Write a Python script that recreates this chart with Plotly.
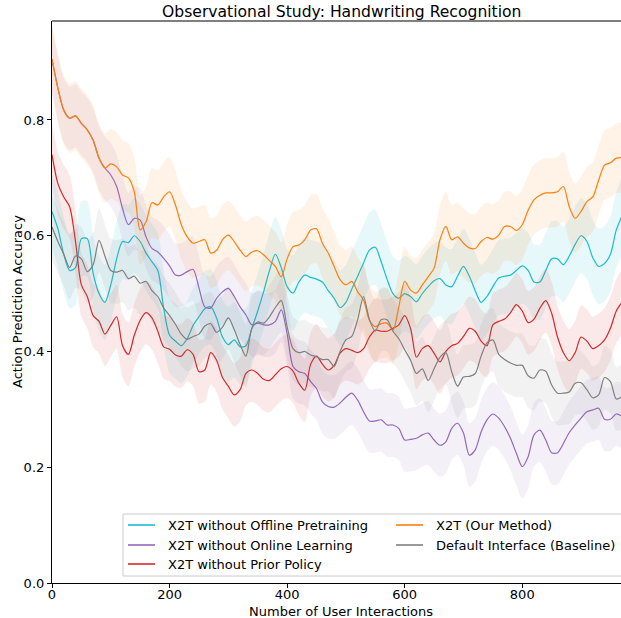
import plotly.graph_objects as go

# Number of user interactions (x) shared by every method
interactions = list(range(0, 971, 10))

# Smoothed action-prediction accuracy per method
acc_no_offline = [
    0.642, 0.612, 0.568, 0.540, 0.545, 0.595, 0.595, 0.535, 0.500, 0.485,
    0.515, 0.560, 0.590, 0.588, 0.600, 0.590, 0.570, 0.555, 0.540, 0.475,
    0.428, 0.418, 0.410, 0.422, 0.445, 0.460, 0.474, 0.477, 0.458, 0.425,
    0.412, 0.420, 0.408, 0.410, 0.440, 0.470, 0.503, 0.540, 0.568, 0.545,
    0.512, 0.501, 0.520, 0.532, 0.528, 0.525, 0.520, 0.505, 0.492, 0.476,
    0.485, 0.508, 0.530, 0.553, 0.575, 0.580, 0.555, 0.525, 0.500, 0.492,
    0.500, 0.495, 0.486, 0.500, 0.512, 0.522, 0.526, 0.515, 0.512, 0.530,
    0.547, 0.530, 0.505, 0.485, 0.495, 0.512, 0.527, 0.530, 0.532, 0.540,
    0.548, 0.540, 0.520, 0.520, 0.540, 0.560, 0.560, 0.550, 0.565, 0.585,
    0.600, 0.590, 0.562, 0.547, 0.552, 0.568, 0.610, 0.635,
]
acc_no_online = [
    0.905, 0.855, 0.817, 0.803, 0.807, 0.794, 0.783, 0.765, 0.734, 0.717,
    0.705, 0.685, 0.647, 0.619, 0.630, 0.627, 0.598, 0.578, 0.572, 0.561,
    0.548, 0.532, 0.532, 0.538, 0.542, 0.510, 0.477, 0.475, 0.492, 0.503,
    0.509, 0.495, 0.477, 0.463, 0.446, 0.449, 0.446, 0.446, 0.452, 0.472,
    0.431, 0.374, 0.365, 0.362, 0.348, 0.336, 0.313, 0.305, 0.304, 0.311,
    0.321, 0.328, 0.316, 0.296, 0.280, 0.280, 0.282, 0.273, 0.273, 0.267,
    0.247, 0.248, 0.250, 0.256, 0.259, 0.247, 0.238, 0.244, 0.267, 0.276,
    0.259, 0.221, 0.230, 0.261, 0.282, 0.292, 0.285, 0.270, 0.250, 0.224,
    0.201, 0.218, 0.256, 0.264, 0.247, 0.225, 0.225, 0.241, 0.260, 0.273,
    0.285, 0.296, 0.299, 0.302, 0.283, 0.283, 0.292, 0.288,
]
acc_no_prior = [
    0.740, 0.690, 0.667, 0.650, 0.590, 0.515, 0.495, 0.462, 0.452, 0.430,
    0.445, 0.460, 0.410, 0.395, 0.428, 0.454, 0.467, 0.458, 0.435, 0.408,
    0.404, 0.394, 0.392, 0.403, 0.395, 0.365, 0.368, 0.398, 0.385, 0.355,
    0.340, 0.325, 0.334, 0.362, 0.368, 0.362, 0.352, 0.350, 0.360, 0.370,
    0.374, 0.366, 0.345, 0.333, 0.378, 0.392, 0.378, 0.368, 0.376, 0.397,
    0.405, 0.402, 0.398, 0.405, 0.425, 0.437, 0.435, 0.435, 0.440, 0.446,
    0.462, 0.440, 0.390, 0.405, 0.410, 0.397, 0.382, 0.400, 0.410, 0.414,
    0.426, 0.440, 0.435, 0.418, 0.410, 0.446, 0.452, 0.456, 0.467, 0.481,
    0.470, 0.450, 0.456, 0.475, 0.488, 0.466, 0.425, 0.398, 0.384, 0.398,
    0.425, 0.418, 0.405, 0.410, 0.420, 0.440, 0.470, 0.485,
]
acc_x2t = [
    0.905, 0.855, 0.817, 0.803, 0.807, 0.794, 0.783, 0.765, 0.734, 0.717,
    0.724, 0.719, 0.705, 0.700, 0.676, 0.610, 0.624, 0.657, 0.653, 0.667,
    0.676, 0.653, 0.619, 0.598, 0.587, 0.590, 0.593, 0.570, 0.575, 0.593,
    0.601, 0.590, 0.575, 0.564, 0.572, 0.574, 0.567, 0.557, 0.547, 0.529,
    0.560, 0.581, 0.584, 0.593, 0.610, 0.612, 0.587, 0.570, 0.547, 0.524,
    0.515, 0.521, 0.503, 0.489, 0.454, 0.443, 0.448, 0.449, 0.437, 0.477,
    0.521, 0.506, 0.501, 0.515, 0.529, 0.544, 0.593, 0.616, 0.593, 0.598,
    0.587, 0.579, 0.578, 0.590, 0.597, 0.594, 0.601, 0.616, 0.616, 0.609,
    0.619, 0.644, 0.662, 0.670, 0.674, 0.674, 0.676, 0.685, 0.650, 0.630,
    0.642, 0.659, 0.667, 0.696, 0.722, 0.726, 0.734, 0.735,
]
acc_default = [
    0.615, 0.590, 0.568, 0.545, 0.565, 0.560, 0.538, 0.550, 0.592, 0.565,
    0.540, 0.537, 0.540, 0.526, 0.530, 0.518, 0.521, 0.505, 0.495, 0.475,
    0.462, 0.447, 0.430, 0.421, 0.426, 0.430, 0.444, 0.448, 0.433, 0.442,
    0.458, 0.438, 0.412, 0.392, 0.440, 0.451, 0.449, 0.460, 0.476, 0.488,
    0.443, 0.405, 0.398, 0.400, 0.394, 0.391, 0.386, 0.386, 0.374, 0.400,
    0.420, 0.426, 0.455, 0.495, 0.455, 0.435, 0.455, 0.455, 0.435, 0.422,
    0.403, 0.385, 0.362, 0.370, 0.350, 0.370, 0.390, 0.398, 0.365, 0.340,
    0.356, 0.357, 0.362, 0.392, 0.415, 0.420, 0.395, 0.386, 0.380, 0.376,
    0.376, 0.358, 0.354, 0.368, 0.366, 0.342, 0.328, 0.328, 0.330, 0.345,
    0.346, 0.334, 0.320, 0.325, 0.355, 0.348, 0.318, 0.322,
]

# Half-width of the shaded spread around each mean curve
spread = {
    "no_offline": 0.065,
    "no_online": 0.055,
    "no_prior": 0.055,
    "x2t": 0.06,
    "default": 0.055,
}

methods = [
    ("no_offline", "X2T without Offline Pretraining", acc_no_offline, (23, 190, 207)),
    ("no_online", "X2T without Online Learning", acc_no_online, (148, 103, 189)),
    ("no_prior", "X2T without Prior Policy", acc_no_prior, (214, 39, 40)),
    ("x2t", "X2T (Our Method)", acc_x2t, (255, 127, 14)),
    ("default", "Default Interface (Baseline)", acc_default, (127, 127, 127)),
]

FONT = "DejaVu Sans"
W, H = 621, 618
L, T, B = 52, 21, 35
plot_w, plot_h = W - L, H - T - B


def px_x(p):
    return (p - L) / plot_w


def px_y(p):
    return (H - B - p) / plot_h


fig = go.Figure()
for key, name, acc, (r, g, b) in methods:
    hw = spread[key]
    upper = [v + hw for v in acc]
    lower = [v - hw for v in acc]
    fig.add_trace(go.Scatter(
        x=interactions + interactions[::-1],
        y=upper + lower[::-1],
        fill="toself",
        fillcolor=f"rgba({r},{g},{b},0.1)",
        line=dict(width=0, shape="spline", smoothing=0.8),
        mode="lines",
        hoverinfo="skip",
        showlegend=False,
    ))
    fig.add_trace(go.Scatter(
        x=interactions, y=acc, mode="lines", name=name,
        line=dict(color=f"rgb({r},{g},{b})", width=1.2, shape="spline", smoothing=0.8),
        showlegend=False,
    ))

shapes = []
annotations = []

# Top spine
shapes.append(dict(type="line", xref="paper", yref="paper", x0=0, x1=1.02, y0=1, y1=1,
                   line=dict(color="black", width=1.2)))

# Legend box laid out in two columns
shapes.append(dict(type="rect", xref="paper", yref="paper",
                   x0=px_x(123), x1=px_x(640), y0=px_y(576), y1=px_y(514),
                   fillcolor="rgba(255,255,255,0.8)", line=dict(color="#cccccc", width=1)))
slots = [(128, 525), (128, 545), (128, 564), (396, 525), (396, 545)]
for (key, name, acc, (r, g, b)), (lx, ly) in zip(methods, slots):
    shapes.append(dict(type="line", xref="paper", yref="paper",
                       x0=px_x(lx), x1=px_x(lx + 27), y0=px_y(ly), y1=px_y(ly),
                       line=dict(color=f"rgb({r},{g},{b})", width=1.6)))
    annotations.append(dict(xref="paper", yref="paper", x=px_x(lx + 38), y=px_y(ly),
                            xanchor="left", yanchor="middle", text=name, showarrow=False,
                            font=dict(family=FONT, size=13, color="black")))

annotations.append(dict(xref="paper", yref="paper", x=px_x(341), y=px_y(12),
                        xanchor="center", yanchor="middle", showarrow=False,
                        text="Observational Study: Handwriting Recognition",
                        font=dict(family=FONT, size=15.6, color="black")))
annotations.append(dict(xref="paper", yref="paper", x=px_x(341), y=px_y(611),
                        xanchor="center", yanchor="middle", showarrow=False,
                        text="Number of User Interactions",
                        font=dict(family=FONT, size=13, color="black")))
annotations.append(dict(xref="paper", yref="paper", x=px_x(17), y=px_y(302),
                        xanchor="center", yanchor="middle", showarrow=False, textangle=-90,
                        text="Action Prediction Accuracy",
                        font=dict(family=FONT, size=13, color="black")))

fig.update_layout(
    width=W, height=H,
    margin=dict(l=L, r=0, t=T, b=B, pad=0),
    paper_bgcolor="white", plot_bgcolor="white",
    font=dict(family=FONT, size=13, color="black"),
    shapes=shapes, annotations=annotations,
    showlegend=False,
)
fig.update_xaxes(range=[0, 968], tickvals=[0, 200, 400, 600, 800], showgrid=False,
                 zeroline=False, showline=True, linecolor="black", linewidth=1.2,
                 ticks="outside", ticklen=4, tickwidth=1, tickcolor="black",
                 ticklabelstandoff=-5,
                 tickfont=dict(family=FONT, size=13, color="black"))
fig.update_yaxes(range=[0, 0.971], tickvals=[0, 0.2, 0.4, 0.6, 0.8], tickformat=".1f",
                 showgrid=False, zeroline=False, showline=True, linecolor="black",
                 linewidth=1.2, ticks="outside", ticklen=4, tickwidth=1, tickcolor="black",
                 tickfont=dict(family=FONT, size=13, color="black"))

fig.write_html("out.html")
